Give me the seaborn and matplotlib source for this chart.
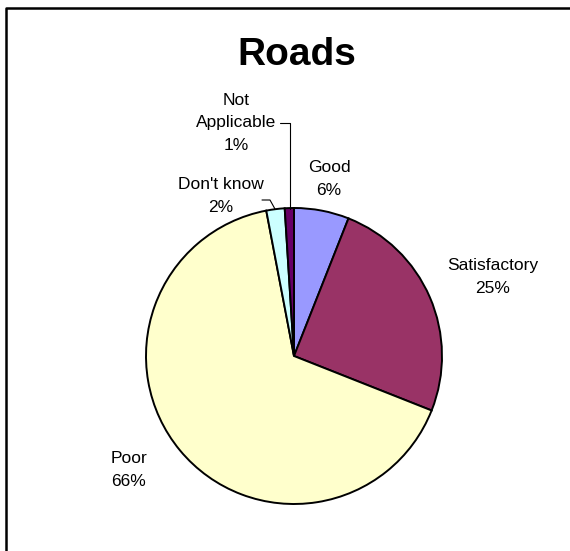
import matplotlib
matplotlib.use("Agg")
import matplotlib.pyplot as plt
import seaborn as sns

# === Dati ===
categories = ["Good", "Satisfactory", "Poor", "Don't know", "Not Applicable"]
values = [6, 25, 66, 2, 1]
colors = ["#9999FF", "#993366", "#FFFFCC", "#CCFFFF", "#660066"]
label_texts = ["Good\n6%", "Satisfactory\n25%", "Poor\n66%", "Don't know\n2%", "Not\nApplicable\n1%"]

sns.set_theme(style="white")
plt.rcParams["font.family"] = ["Liberation Sans", "DejaVu Sans"]

W, H = 570, 551
fig = plt.figure(figsize=(W / 100, H / 100), dpi=100)
ax = fig.add_axes([0, 0, 1, 1])


def px(x, y):
    # coordinate pixel (origine in alto) -> coordinate dati
    return x, H - y


# === Torta ===
ax.pie(values, colors=sns.color_palette(colors), startangle=90, counterclock=False,
       center=px(294, 356), radius=148, frame=True,
       wedgeprops=dict(edgecolor="black", linewidth=1.4))
ax.set_xlim(0, W)
ax.set_ylim(0, H)
ax.set_aspect("equal")
ax.axis("off")

# === Etichette ===
label_pos = [(329, 179), (493, 277), (129, 470), (221, 196), (236, 123)]
for txt, (x, y) in zip(label_texts, label_pos):
    ax.text(*px(x, y), txt, ha="center", va="center", fontsize=12.5,
            linespacing=1.65, color="black")

# linee guida
ax.plot(*zip(px(280, 123), px(290, 123), px(290, 209)), color="black", lw=0.8)
ax.plot(*zip(px(262, 200), px(270, 200), px(275, 209)), color="black", lw=0.8)

# === Titolo ===
ax.text(*px(297, 55), "Roads", ha="center", va="center", fontsize=28,
        fontweight="bold", color="black")

# === Bordo ===
ax.plot(*zip(px(6, H + 5), px(6, 8), px(W + 5, 8)), color="black", lw=1.8, clip_on=False)

fig.savefig("out.png", dpi=100)
plt.close()
